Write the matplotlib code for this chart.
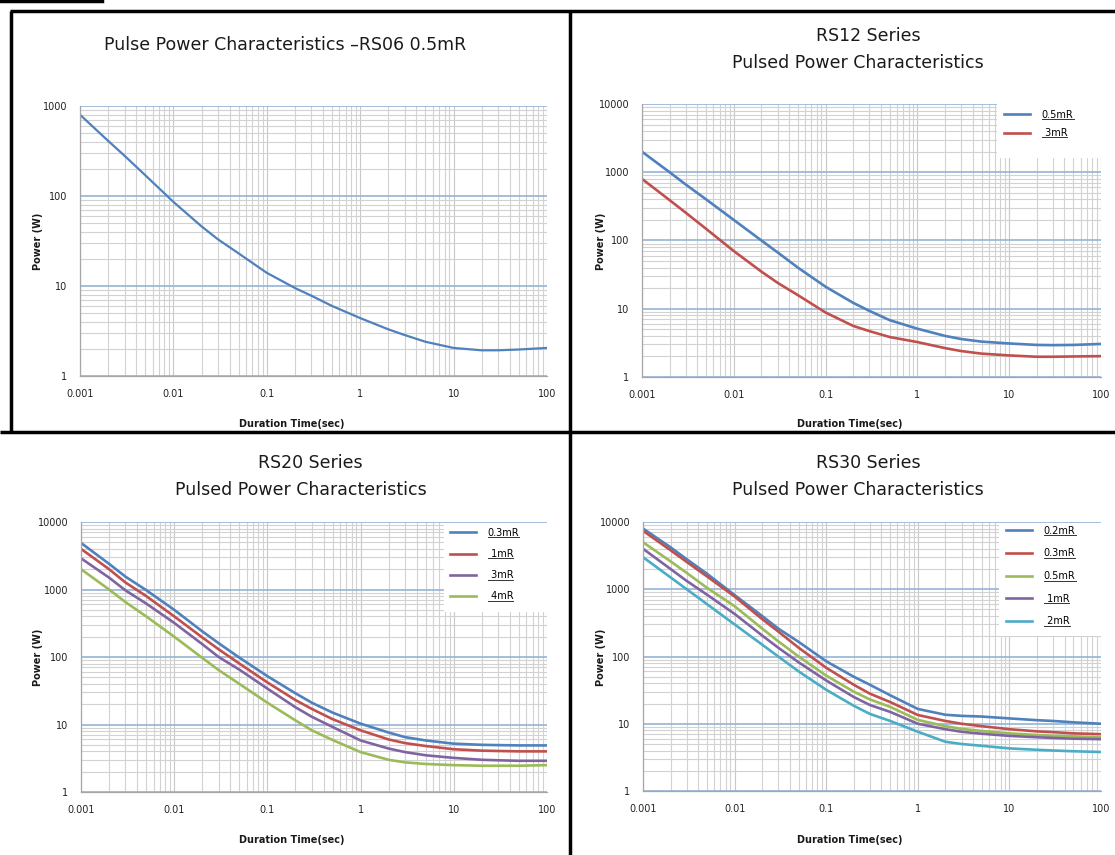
import numpy as np
import matplotlib
matplotlib.use("Agg")
import matplotlib.pyplot as plt
from matplotlib.lines import Line2D
from matplotlib.patches import Rectangle
from matplotlib.ticker import LogLocator, NullFormatter, FixedLocator, FixedFormatter

W, H = 1115, 855

# ---------------- data ----------------
duration = [0.001, 0.002, 0.003, 0.005, 0.01, 0.02, 0.03, 0.05, 0.1, 0.2, 0.3, 0.5,
            1, 2, 3, 5, 10, 20, 30, 50, 100]

rs06_05 = [800, 410, 280, 170, 86, 46, 33, 23, 14, 9.5, 7.8, 6.0,
           4.4, 3.3, 2.85, 2.4, 2.05, 1.93, 1.93, 1.97, 2.05]

rs12_05 = [2000, 1000, 660, 400, 200, 100, 67, 40, 21, 12.2, 9.3, 6.8,
           5.1, 4.0, 3.6, 3.3, 3.1, 2.95, 2.93, 2.95, 3.05]
rs12_3 = [800, 390, 255, 148, 70, 35, 24, 15.8, 8.8, 5.6, 4.7, 3.85,
          3.25, 2.65, 2.4, 2.2, 2.07, 1.98, 1.98, 2.0, 2.02]

rs20_03 = [4900, 2400, 1550, 980, 500, 240, 160, 98, 52, 29, 21, 15,
           10.3, 7.6, 6.5, 5.8, 5.2, 5.0, 4.95, 4.9, 4.9]
rs20_1 = [4000, 2000, 1270, 800, 400, 195, 130, 80, 42, 23, 17, 12,
          8.2, 6.0, 5.3, 4.8, 4.3, 4.1, 4.05, 4.0, 4.0]
rs20_3 = [2900, 1500, 970, 620, 320, 155, 100, 65, 34, 18, 13, 9.2,
          5.8, 4.4, 3.9, 3.5, 3.2, 3.0, 2.95, 2.9, 2.9]
rs20_4 = [2000, 1000, 650, 400, 200, 97, 64, 40, 21, 11.5, 8.2, 5.9,
          3.9, 3.0, 2.75, 2.6, 2.5, 2.45, 2.45, 2.45, 2.5]

rs30_02 = [8000, 4200, 2800, 1700, 820, 400, 260, 165, 85, 50, 38, 26.5,
           16.6, 13.6, 13.1, 12.8, 12, 11.3, 11, 10.5, 10]
rs30_03 = [7400, 3800, 2550, 1550, 780, 360, 235, 135, 68, 38, 28, 21,
           13.5, 11, 10, 9.2, 8.3, 7.7, 7.5, 7.2, 7.0]
rs30_05 = [5000, 2600, 1750, 1050, 560, 260, 168, 100, 52, 30, 23, 17.8,
           11.4, 9.2, 8.4, 7.8, 7.2, 6.8, 6.6, 6.5, 6.3]
rs30_1 = [4000, 2000, 1330, 830, 430, 205, 135, 82, 44, 25, 19, 15,
          10, 8.3, 7.6, 7.1, 6.6, 6.3, 6.15, 6.0, 5.9]
rs30_2 = [3000, 1500, 1000, 600, 300, 150, 100, 60, 32, 18.5, 14, 11,
          7.6, 5.4, 5.0, 4.7, 4.3, 4.1, 4.0, 3.9, 3.8]

x_ticks = [0.001, 0.01, 0.1, 1, 10, 100]
x_labels = ["0.001", "0.01", "0.1", "1", "10", "100"]
y_ticks_3 = [1, 10, 100, 1000]
y_labels_3 = ["1", "10", "100", "1000"]
y_ticks_4 = [1, 10, 100, 1000, 10000]
y_labels_4 = ["1", "10", "100", "1000", "10000"]

BLUE, RED, GREEN, PURPLE, CYAN = "#4F81BD", "#C0504D", "#9BBB59", "#8064A2", "#4BACC6"

# ---------------- figure ----------------
fig = plt.figure(figsize=(W / 100, H / 100), dpi=100)
fig.patch.set_facecolor("white")


def px_axes(l, t, r, b):
    return fig.add_axes([l / W, 1 - b / H, (r - l) / W, (b - t) / H])


def fx(x):
    return x / W


def fy(y):
    return 1 - y / H


def style_axes(ax, ymax, yt, yl):
    ax.set_xscale("log")
    ax.set_yscale("log")
    ax.set_xlim(0.001, 100)
    ax.set_ylim(1, ymax)
    ax.xaxis.set_major_locator(FixedLocator(x_ticks))
    ax.xaxis.set_major_formatter(FixedFormatter(x_labels))
    ax.yaxis.set_major_locator(FixedLocator(yt))
    ax.yaxis.set_major_formatter(FixedFormatter(yl))
    ax.xaxis.set_minor_locator(LogLocator(base=10, subs=np.arange(2, 10)))
    ax.yaxis.set_minor_locator(LogLocator(base=10, subs=np.arange(2, 10)))
    ax.xaxis.set_minor_formatter(NullFormatter())
    ax.yaxis.set_minor_formatter(NullFormatter())
    ax.tick_params(which="both", length=0, labelsize=7, colors="#222222")
    ax.tick_params(axis="x", pad=9)
    ax.tick_params(axis="y", pad=9)
    ax.grid(True, which="minor", axis="both", color="#D2D2D2", lw=0.8)
    ax.grid(True, which="major", axis="x", color="#C8C8C8", lw=0.8)
    ax.grid(True, which="major", axis="y", color="#95B3D7", lw=1.2)
    ax.set_axisbelow(True)
    for s in ["top", "right"]:
        ax.spines[s].set_visible(False)
    for s in ["left", "bottom"]:
        ax.spines[s].set_color("#A6A6A6")
        ax.spines[s].set_linewidth(0.9)


LW = 1.9

# Top-left
ax1 = px_axes(80, 106, 547, 376)
style_axes(ax1, 1000, y_ticks_3, y_labels_3)
ax1.plot(duration, rs06_05, color=BLUE, lw=1.6)

# Top-right
ax2 = px_axes(642, 104, 1101, 377)
style_axes(ax2, 10000, y_ticks_4, y_labels_4)
ax2.plot(duration, rs12_05, color=BLUE, lw=LW, label="0.5mR")
ax2.plot(duration, rs12_3, color=RED, lw=LW, label=" 3mR")

# Bottom-left
ax3 = px_axes(81, 522, 547, 792)
style_axes(ax3, 10000, y_ticks_4, y_labels_4)
ax3.plot(duration, rs20_03, color=BLUE, lw=LW, label="0.3mR")
ax3.plot(duration, rs20_1, color=RED, lw=LW, label=" 1mR")
ax3.plot(duration, rs20_3, color=PURPLE, lw=LW, label=" 3mR")
ax3.plot(duration, rs20_4, color=GREEN, lw=LW, label=" 4mR")

# Bottom-right
ax4 = px_axes(643, 522, 1101, 791)
style_axes(ax4, 10000, y_ticks_4, y_labels_4)
ax4.plot(duration, rs30_02, color=BLUE, lw=LW, label="0.2mR")
ax4.plot(duration, rs30_03, color=RED, lw=LW, label="0.3mR")
ax4.plot(duration, rs30_05, color=GREEN, lw=LW, label="0.5mR")
ax4.plot(duration, rs30_1, color=PURPLE, lw=LW, label=" 1mR")
ax4.plot(duration, rs30_2, color=CYAN, lw=LW, label=" 2mR")


def make_legend(ax, x0, y0, spacing, box):
    l, t, r, b = box
    ax.add_patch(Rectangle((fx(l), fy(b)), (r - l) / W, (b - t) / H,
                           transform=fig.transFigure, facecolor="white",
                           edgecolor="none", zorder=4, clip_on=False))
    leg = ax.legend(loc="upper left", bbox_to_anchor=(fx(x0), fy(y0)),
                    bbox_transform=fig.transFigure, fontsize=7, frameon=False,
                    handlelength=2.7, handletextpad=1.2,
                    labelspacing=spacing, borderpad=0.6, borderaxespad=0)
    leg.set_zorder(5)
    return leg


legs = [make_legend(ax2, 998, 104, 0.85, (997, 104, 1108, 158)),
        make_legend(ax3, 444, 522, 1.15, (444, 523, 547, 612)),
        make_legend(ax4, 1000, 520, 1.3, (999, 523, 1108, 636))]

# Titles
title_kw = dict(ha="center", va="center", fontsize=12.5, color="#1a1a1a")
fig.text(fx(285), fy(45), "Pulse Power Characteristics \u2013RS06 0.5mR", **title_kw)
fig.text(fx(868), fy(36), "RS12 Series", **title_kw)
fig.text(fx(858), fy(63), "Pulsed Power Characteristics", **title_kw)
fig.text(fx(310), fy(463), "RS20 Series", **title_kw)
fig.text(fx(301), fy(490), "Pulsed Power Characteristics", **title_kw)
fig.text(fx(868), fy(463), "RS30 Series", **title_kw)
fig.text(fx(858), fy(490), "Pulsed Power Characteristics", **title_kw)

lab_kw = dict(ha="center", va="center", fontsize=7, fontweight="bold", color="#1a1a1a")
for (x, y) in [(292, 424), (850, 424), (292, 840), (850, 840)]:
    fig.text(fx(x), fy(y), "Duration Time(sec)", **lab_kw)
for (x, y) in [(38, 241), (601, 241), (38, 657), (601, 657)]:
    fig.text(fx(x), fy(y), "Power (W)", rotation=90, **lab_kw)

# Black table borders
blk = dict(color="black", lw=2.5, transform=fig.transFigure, solid_capstyle="butt")
fig.add_artist(Line2D([fx(10), fx(1115)], [fy(11), fy(11)], **blk))
fig.add_artist(Line2D([fx(11), fx(11)], [fy(11), fy(432)], **blk))
fig.add_artist(Line2D([fx(0), fx(1115)], [fy(432), fy(432)], **blk))
fig.add_artist(Line2D([fx(570), fx(570)], [fy(11), fy(855)], **blk))
fig.add_artist(Line2D([fx(0), fx(102)], [fy(1), fy(1)], color="black", lw=2.5,
                      transform=fig.transFigure))

# Underline legend labels
fig.canvas.draw()
inv = fig.transFigure.inverted()
for leg in legs:
    for t in leg.get_texts():
        bb = t.get_window_extent().transformed(inv)
        fig.add_artist(Line2D([bb.x0, bb.x1], [bb.y0 + 0.6 / H, bb.y0 + 0.6 / H],
                              color="#333333", lw=0.7, transform=fig.transFigure))

fig.savefig("out.png", dpi=100, facecolor="white")
